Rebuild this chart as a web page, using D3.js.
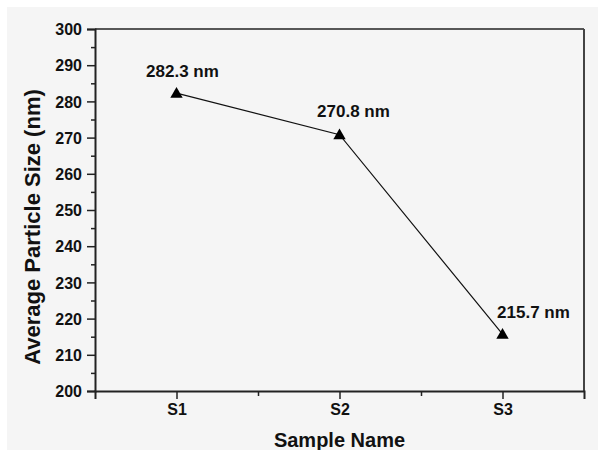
<!DOCTYPE html>
<html>
<head>
<meta charset="utf-8">
<script src="https://cdn.jsdelivr.net/npm/d3@7"></script>
<style>
  html, body { margin: 0; padding: 0; background: #ffffff; }
  svg { display: block; }
  text { font-family: Arial, "Liberation Sans", sans-serif; font-weight: bold; fill: #111; }
</style>
</head>
<body>
<svg id="chart" width="598" height="450"></svg>
<script>
const categories = ["S1", "S2", "S3"];
const values = [282.3, 270.8, 215.7];
const valueLabels = ["282.3 nm", "270.8 nm", "215.7 nm"];
const yTicks = [200, 210, 220, 230, 240, 250, 260, 270, 280, 290, 300];
const yLabel = "Average Particle Size (nm)";
const xLabel = "Sample Name";
// label placement offsets (style, not data)
const labelDx = [6, 14, 31];
const labelDy = [-16, -18, -16];

const W = 598, H = 450;
const margin = { left: 95, top: 29, right: 14, bottom: 59 };
const svg = d3.select("#chart");

svg.append("rect").attr("x", 7).attr("y", 7).attr("width", W - 7).attr("height", H - 7).attr("fill", "#f5f5f5");

const x = d3.scaleLinear().domain([0.5, 3.5]).range([margin.left, W - margin.right]);
const y = d3.scaleLinear().domain([200, 300]).range([H - margin.bottom, margin.top]);

const g = svg.append("g");

// box top & right
g.append("line").attr("x1", x(0.5)).attr("x2", x(3.5)).attr("y1", y(300)).attr("y2", y(300)).attr("stroke", "#222").attr("stroke-width", 1.5);
g.append("line").attr("x1", x(3.5)).attr("x2", x(3.5)).attr("y1", y(300)).attr("y2", y(200)).attr("stroke", "#444").attr("stroke-width", 2);

// y axis major
const yAxis = d3.axisLeft(y).tickValues(yTicks).tickFormat(d3.format("d")).tickSize(8).tickPadding(5);
const ya = g.append("g").attr("transform", `translate(${x(0.5)},0)`).call(yAxis);
ya.attr("font-size", null);
ya.select(".domain").attr("stroke", "#222").attr("stroke-width", 2);
ya.selectAll(".tick line").attr("stroke", "#222").attr("stroke-width", 1.5);
ya.selectAll(".tick text").style("font-size", "16px").attr("dy", "0.35em");
// y minor
const yMinor = d3.range(205, 300, 10);
g.append("g").attr("transform", `translate(${x(0.5)},0)`)
  .call(d3.axisLeft(y).tickValues(yMinor).tickSize(4).tickFormat(""))
  .call(s => { s.select(".domain").remove(); s.selectAll("line").attr("stroke", "#222").attr("stroke-width", 1.5); });

// x axis
const xAxis = d3.axisBottom(x).tickValues([1, 2, 3]).tickFormat((d) => categories[d - 1]).tickSize(8).tickPadding(5);
const xa = g.append("g").attr("transform", `translate(0,${y(200)})`).call(xAxis);
xa.attr("font-size", null);
xa.select(".domain").attr("stroke", "#222").attr("stroke-width", 2);
xa.selectAll(".tick line").attr("stroke", "#222").attr("stroke-width", 1.5);
xa.selectAll(".tick text").style("font-size", "16px");
g.append("g").attr("transform", `translate(0,${y(200)})`)
  .call(d3.axisBottom(x).tickValues([1.5, 2.5]).tickSize(5).tickFormat(""))
  .call(s => { s.select(".domain").remove(); s.selectAll("line").attr("stroke", "#222").attr("stroke-width", 1.5); });

// line
const pts = values.map((v, i) => [x(i + 1), y(v)]);
g.append("path").attr("d", d3.line()(pts)).attr("fill", "none").attr("stroke", "#111").attr("stroke-width", 1.2);

// markers
g.selectAll(".mk").data(values).enter().append("path")
  .attr("transform", (d, i) => `translate(${x(i + 1)},${y(d) + 1})`)
  .attr("d", d3.symbol().type(d3.symbolTriangle).size(66))
  .attr("fill", "#000");

// value labels
g.selectAll(".vl").data(values).enter().append("text")
  .attr("x", (d, i) => x(i + 1) + labelDx[i])
  .attr("y", (d, i) => y(d) + labelDy[i])
  .attr("text-anchor", "middle")
  .style("font-size", "17px")
  .text((d, i) => valueLabels[i]);

// axis titles
svg.append("text").attr("transform", `translate(40,227) rotate(-90)`)
  .attr("text-anchor", "middle").style("font-size", "22px").text(yLabel);
svg.append("text").attr("x", x(2)).attr("y", 447).attr("text-anchor", "middle").style("font-size", "20px").text(xLabel);
</script>
</body>
</html>
